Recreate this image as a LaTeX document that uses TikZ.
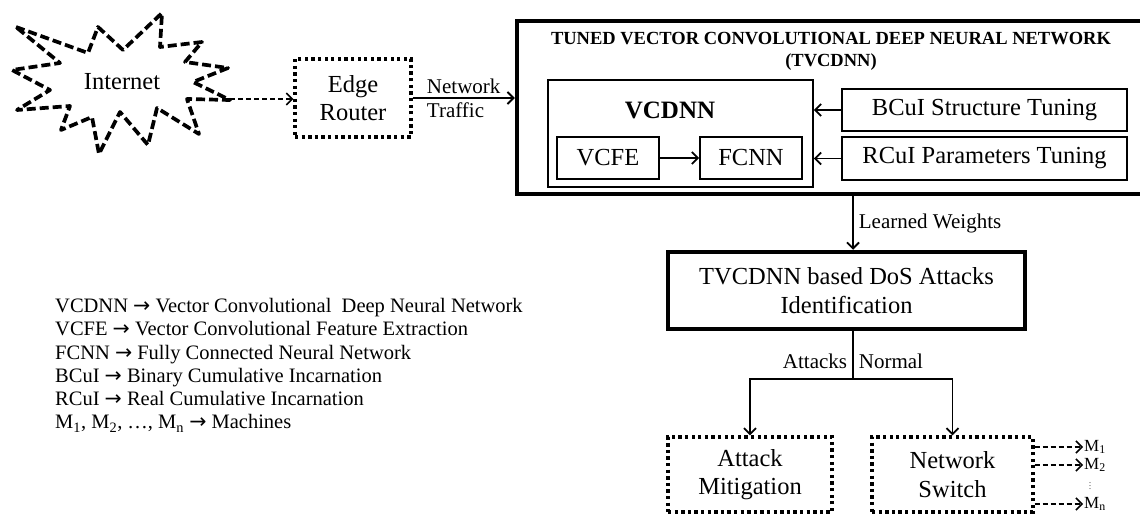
\documentclass[tikz,border=0pt]{standalone}
\usepackage{fontspec}
\setmainfont{Liberation Serif}
\newfontfamily\arrowfont{DejaVu Sans}
\newcommand{\legarrow}{{\arrowfont →}}
\usetikzlibrary{arrows.meta}

\begin{document}
\begin{tikzpicture}[x=1pt,y=-1pt]
    \tikzset{
        dotbox/.style={draw, line width=3.3pt, dash pattern=on 3.3pt off 3.3pt, align=center, inner sep=0, font=\fontsize{24.5}{28.5}\selectfont},
        thinbox/.style={draw, line width=1.8pt, align=center, inner sep=0, font=\fontsize{24.5}{28.5}\selectfont},
        thickbox/.style={draw, line width=4.5pt, align=center, inner sep=0, font=\fontsize{24.5}{29}\selectfont},
        arr/.style={line width=1.8pt, -{Straight Barb[length=6pt,width=12pt]}},
        darr/.style={line width=1.5pt, dash pattern=on 5pt off 3pt, -{Straight Barb[length=6pt,width=12pt]}},
        lbl/.style={inner sep=5pt, font=\fontsize{21}{24}\selectfont},
        mlbl/.style={inner sep=1pt, font=\fontsize{17}{19}\selectfont}
    }

    \useasboundingbox (0,0) rectangle (1140,516);
    \clip (0,0) rectangle (1140,516);

    % internet cloud
    \draw[line width=3.7pt, dash pattern=on 9pt off 4pt, line join=round]
        (16,27) -- (88,53) -- (98,27) -- (123,50) -- (162,13) -- (160,47) -- (202,42) -- (185,62)
        -- (228,68) -- (193,82) -- (230,100) -- (187,99) -- (199,134) -- (157,108) -- (148,145)
        -- (120,112) -- (99,154) -- (92,117) -- (61,130) -- (70,106) -- (17,110) -- (50,90)
        -- (12,70) -- (60,63) -- cycle;
    \node[font=\fontsize{24.5}{28}\selectfont] (internet) at (122,82) {Internet};
    \coordinate (netTip) at (230,99);

    \node[dotbox, minimum width=116pt, minimum height=78pt] (router) at (353,98) {Edge\\Router};

    % tuned network
    \node[draw, line width=4.5pt, inner sep=0, minimum width=650pt, minimum height=173pt] (tvcdnn) at (842,107.5) {};
    \node[align=center, inner sep=0, font=\fontsize{18.5}{22}\selectfont\bfseries] (title) at (831,51)
        {TUNED VECTOR CONVOLUTIONAL DEEP NEURAL NETWORK\\(TVCDNN)};

    \node[thinbox, minimum width=265pt, minimum height=107pt] (vcdnn) at (680.5,133.5) {};
    \node[inner sep=0, font=\fontsize{25}{28}\selectfont\bfseries] (vcdnnName) at (670,110) {VCDNN};
    \node[thinbox, minimum width=102pt, minimum height=42pt] (vcfe) at (608,158) {VCFE};
    \node[thinbox, minimum width=102pt, minimum height=42pt] (fcnn) at (751,158) {FCNN};

    \node[thinbox, minimum width=285pt, minimum height=42pt] (bcui) at (984.5,110) {BCuI Structure Tuning};
    \node[thinbox, minimum width=285pt, minimum height=43pt] (rcui) at (984.5,158.5) {RCuI Parameters Tuning};

    % detection and output
    \node[thickbox, minimum width=357pt, minimum height=77pt] (ident) at (846.5,290.5)
        {TVCDNN based DoS Attacks\\Identification};
    \coordinate (split) at (853,379);

    \node[dotbox, minimum width=164pt, minimum height=75pt] (mitig) at (750,474.5) {Attack\\Mitigation};
    \node[dotbox, minimum width=161pt, minimum height=75pt] (netswitch) at (952.5,474.5) {Network\\Switch};

    \node[mlbl, anchor=west] (m1) at (1083,447) {M\textsubscript{1}};
    \node[mlbl, anchor=west] (m2) at (1083,465) {M\textsubscript{2}};
    \node[inner sep=0, font=\fontsize{8}{8}\selectfont] (mdots) at (1090,486)
        {\vbox{\baselineskip=2.8pt\lineskiplimit=0pt\hbox{.}\hbox{.}\hbox{.}}};
    \node[mlbl, anchor=west] (mn) at (1083,504) {M\textsubscript{n}};

    % legend
    \node[anchor=north west, inner sep=0, align=left, font=\fontsize{20.5}{23.3}\selectfont] (legend) at (55,298)
        {VCDNN \legarrow{} Vector Convolutional~ Deep Neural Network\\
         VCFE \legarrow{} Vector Convolutional Feature Extraction\\
         FCNN \legarrow{} Fully Connected Neural Network\\
         BCuI \legarrow{} Binary Cumulative Incarnation\\
         RCuI \legarrow{} Real Cumulative Incarnation\\
         M\textsubscript{1}, M\textsubscript{2}, …, M\textsubscript{n} \legarrow{} Machines};

    % connections
    \draw[darr] (netTip) -- (netTip -| router.west);
    \draw[arr] (router.east) -- node[lbl, align=left, inner sep=0] {Network\\Traffic} (router.east -| tvcdnn.west);
    \draw[arr] (vcfe) -- (fcnn);
    \draw[arr] (bcui.west) -- (bcui.west -| vcdnn.east);
    \draw[arr] (rcui.west) -- (rcui.west -| vcdnn.east);
    \draw[arr] (split |- tvcdnn.south) -- node[lbl, right] {Learned Weights} (split |- ident.north);
    \draw[line width=1.8pt] (split |- ident.south) -- node[lbl, pos=.62, left] {Attacks} node[lbl, pos=.62, right] {Normal} (split);
    \draw[arr] (split) -| (mitig.north);
    \draw[arr] (split) -| (netswitch.north);
    \draw[darr] (netswitch.east |- m1.west) -- (m1.west);
    \draw[darr] (netswitch.east |- m2.west) -- (m2.west);
    \draw[darr] (netswitch.east |- mn.west) -- (mn.west);
\end{tikzpicture}
\end{document}
